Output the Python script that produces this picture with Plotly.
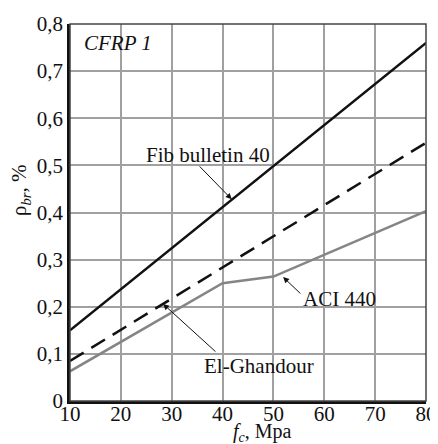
import plotly.graph_objects as go

fib_x = [10, 80]
fib_y = [0.15, 0.76]
elg_x = [10, 80]
elg_y = [0.085, 0.548]
aci_x = [10, 40, 50, 80]
aci_y = [0.063, 0.25, 0.264, 0.403]
x_ticks = [10, 20, 30, 40, 50, 60, 70, 80]
y_ticks = [0, 0.1, 0.2, 0.3, 0.4, 0.5, 0.6, 0.7, 0.8]

FONT = "Liberation Serif, Times New Roman, serif"
FS = 21

fig = go.Figure()
fig.add_trace(go.Scatter(x=fib_x, y=fib_y, mode="lines",
                         line=dict(color="#111111", width=2.5)))
fig.add_trace(go.Scatter(x=elg_x, y=elg_y, mode="lines",
                         line=dict(color="#111111", width=2.5, dash="16px,9px")))
fig.add_trace(go.Scatter(x=aci_x, y=aci_y, mode="lines",
                         line=dict(color="#858585", width=2.5)))

tf = dict(size=FS, family=FONT, color="#111")
ann = [
    dict(x=19.4, y=0.76, text="<i>CFRP 1</i>", showarrow=False, xref="x", yref="y", font=tf),
    dict(x=37.2, y=0.522, text="Fib bulletin 40", showarrow=False, xref="x", yref="y", font=tf),
    dict(x=62.9, y=0.216, text="ACI 440", showarrow=False, xref="x", yref="y", font=tf),
    dict(x=47.2, y=0.074, text="El-Ghandour", showarrow=False, xref="x", yref="y", font=tf),
]
arrows = [((35.2, 0.501), (41.8, 0.428)),
          ((55.6, 0.225), (51.9, 0.263)),
          ((38.9, 0.102), (28.3, 0.206))]
for (tx, ty), (hx, hy) in arrows:
    ann.append(dict(x=hx, y=hy, ax=tx, ay=ty, xref="x", yref="y", axref="x", ayref="y",
                    text="", showarrow=True, arrowhead=2, arrowsize=1.2, arrowwidth=1,
                    arrowcolor="#111", standoff=0, startstandoff=0))
ann.append(dict(x=-0.14, y=0.56, xref="paper", yref="paper", textangle=-90,
                xanchor="center", yanchor="middle",
                text="ρ<sub><i>br</i></sub>, %", showarrow=False, font=tf))
ann.append(dict(x=0.54, y=-0.084, xref="paper", yref="paper",
                xanchor="center", yanchor="middle",
                text="<i>f</i><sub><i>c</i></sub>, Mpa", showarrow=False,
                font=dict(size=20, family=FONT, color="#111")))

# page body has an 8px margin, so the figure is drawn offset by (8, 8)
fig.update_layout(
    width=430, height=436,
    margin=dict(l=62, r=12, t=16, b=43, autoexpand=False),
    paper_bgcolor="white", plot_bgcolor="white",
    showlegend=False,
    separators=", ",
    font=dict(family=FONT, size=FS, color="#111"),
    annotations=ann,
    shapes=[dict(type="rect", xref="paper", yref="paper", x0=0, y0=0, x1=1, y1=1,
                 line=dict(color="#444", width=1.5), layer="above")],
)
fig.update_xaxes(range=[10, 80], tickvals=x_ticks, showgrid=True, gridcolor="#a0a0a0",
                 gridwidth=1.5, showline=True, linecolor="#111", linewidth=2.5,
                 zeroline=False, ticks="", automargin=False, tickfont=tf,
                 ticklabelstandoff=-8)
fig.update_yaxes(range=[0, 0.8], tickvals=y_ticks, showgrid=True, gridcolor="#a0a0a0",
                 gridwidth=1.5, showline=True, linecolor="#111", linewidth=2.5,
                 zeroline=False, ticks="", automargin=False, tickfont=tf)

fig.write_html("out.html")
